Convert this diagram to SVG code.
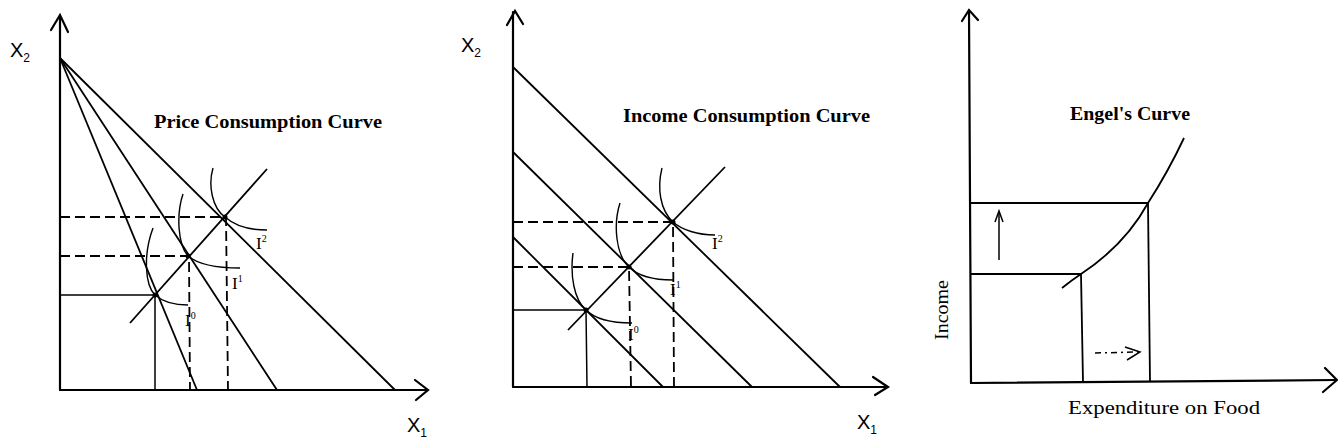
<svg xmlns="http://www.w3.org/2000/svg" width="1338" height="448" viewBox="0 0 1338 448">
<style>
.ax{stroke:#000;stroke-width:2.2;fill:none;stroke-linecap:round}
.ln{stroke:#000;stroke-width:1.8;fill:none}
.th{stroke:#000;stroke-width:1.5;fill:none}
.ds{stroke:#000;stroke-width:1.8;fill:none;stroke-dasharray:10 5}
.ic{stroke:#000;stroke-width:1.4;fill:none}
.t{font-family:"Liberation Serif",serif;font-weight:bold;font-size:18px;fill:#000}
.r{font-family:"Liberation Serif",serif;font-size:18px;fill:#000}
.x{font-family:"Liberation Sans",Arial,sans-serif;font-size:20px;fill:#000}
.sub{font-size:12px}
.il{font-family:"Liberation Serif",serif;font-size:17px;fill:#000}
.sup{font-size:10px}
</style>
<rect width="1338" height="448" fill="#fff"/>

<g id="panel1">
  <g id="p1-axes">
    <line class="ax" x1="60" y1="16" x2="60" y2="390"/>
    <polyline class="ax" points="51,30 60,15 68,32"/>
    <line class="ax" x1="60" y1="390" x2="427" y2="390"/>
    <polyline class="ax" points="415,380 428,390 416,400"/>
    <text class="x" x="10" y="57">X<tspan class="sub" dy="5">2</tspan></text>
    <text class="x" x="407" y="432">X<tspan class="sub" dy="5">1</tspan></text>
  </g>
  <g id="p1-connectors">
    <line class="ln" x1="60" y1="58" x2="395" y2="390"/>
    <line class="ln" x1="60" y1="58" x2="277" y2="390"/>
    <line class="ln" x1="60" y1="58" x2="197" y2="390"/>
    <line class="ln" x1="130" y1="323" x2="267" y2="169"/>
    <polyline class="th" points="60,295 155,295 155,390"/>
    <polyline class="ds" points="60,256 189,256 190,390"/>
    <polyline class="ds" points="60,217 226,217 228,390"/>
    <path class="ic" d="M153,228 C143,255 145,285 155,295 C163,302 175,305 188,305"/>
    <path class="ic" d="M183,194 C176,215 178,245 188,256 C200,266 220,268 240,268"/>
    <path class="ic" d="M213,168 C208,185 212,208 225,217 C235,226 250,230 267,230"/>
    <circle cx="155" cy="295" r="2.5"/>
    <circle cx="188" cy="256" r="2.5"/>
    <circle cx="225" cy="217" r="2.5"/>
  </g>
  <text class="t" x="154" y="128" textLength="228" lengthAdjust="spacingAndGlyphs">Price Consumption Curve</text>
  <text class="il" x="185" y="326">I<tspan class="sup" dy="-7">0</tspan></text>
  <text class="il" x="232" y="289">I<tspan class="sup" dy="-7">1</tspan></text>
  <text class="il" x="256" y="249">I<tspan class="sup" dy="-7">2</tspan></text>
</g>

<g id="panel2">
  <g id="p2-axes">
    <line class="ax" x1="513" y1="12" x2="513" y2="387"/>
    <polyline class="ax" points="507,25 515,11 523,24"/>
    <line class="ax" x1="513" y1="387" x2="887" y2="387"/>
    <polyline class="ax" points="873,377 888,387 875,395"/>
    <text class="x" x="461" y="52">X<tspan class="sub" dy="5">2</tspan></text>
    <text class="x" x="857" y="429">X<tspan class="sub" dy="5">1</tspan></text>
  </g>
  <g id="p2-connectors">
    <line class="ln" x1="513" y1="67" x2="840" y2="387"/>
    <line class="ln" x1="513" y1="152" x2="752" y2="387"/>
    <line class="ln" x1="513" y1="237" x2="663" y2="387"/>
    <line class="ln" x1="568" y1="330" x2="725" y2="167"/>
    <polyline class="th" points="513,310 586,310 587,387"/>
    <polyline class="ds" points="513,267 629,267 631,387"/>
    <polyline class="ds" points="513,222 673,222 674,387"/>
    <path class="ic" d="M573,253 C570,275 574,300 586,310 C596,320 612,323 632,323"/>
    <path class="ic" d="M620,203 C613,225 616,255 629,267 C638,276 655,280 673,280"/>
    <path class="ic" d="M662,168 C657,188 660,210 673,222 C682,230 698,235 715,235"/>
    <circle cx="586" cy="310" r="2.5"/>
    <circle cx="629" cy="267" r="2.5"/>
    <circle cx="673" cy="222" r="2.5"/>
  </g>
  <text class="t" x="623" y="122" textLength="247" lengthAdjust="spacingAndGlyphs">Income Consumption Curve</text>
  <text class="il" x="628" y="340">I<tspan class="sup" dy="-7">0</tspan></text>
  <text class="il" x="670" y="295">I<tspan class="sup" dy="-7">1</tspan></text>
  <text class="il" x="712" y="249">I<tspan class="sup" dy="-7">2</tspan></text>
</g>

<g id="panel3">
  <g id="p3-axes">
    <line class="ax" x1="969" y1="11" x2="971" y2="383"/>
    <polyline class="ax" points="962,21 969,10 978,20"/>
    <line class="ax" x1="971" y1="383" x2="1336" y2="380"/>
    <polyline class="ax" points="1325,368 1337,380 1323,392"/>
  </g>
  <g id="p3-connectors">
    <line class="ln" x1="970" y1="203" x2="1148" y2="203"/>
    <line class="ln" x1="1148" y1="203" x2="1150" y2="382"/>
    <line class="ln" x1="971" y1="274" x2="1081" y2="274"/>
    <line class="ln" x1="1081" y1="274" x2="1083" y2="382"/>
    <path class="ln" d="M1062,288 Q1072,280 1081,274 Q1125,245 1148,203 Q1168,172 1184,138"/>
    <line class="th" x1="999" y1="260" x2="999" y2="212"/>
    <polyline class="th" points="995,222 999,211 1003,222"/>
    <line class="th" x1="1095" y1="353" x2="1138" y2="352" stroke-dasharray="6 4 2 4"/>
    <polyline class="th" points="1125,347 1140,352 1127,360"/>
  </g>
  <text class="t" x="1070" y="120" textLength="120" lengthAdjust="spacingAndGlyphs">Engel's Curve</text>
  <text class="r" x="1068" y="414" textLength="192" lengthAdjust="spacingAndGlyphs">Expenditure on Food</text>
  <text class="r" transform="translate(948,310) rotate(-90)" text-anchor="middle" font-size="16" textLength="60" lengthAdjust="spacingAndGlyphs">Income</text>
</g>
</svg>
